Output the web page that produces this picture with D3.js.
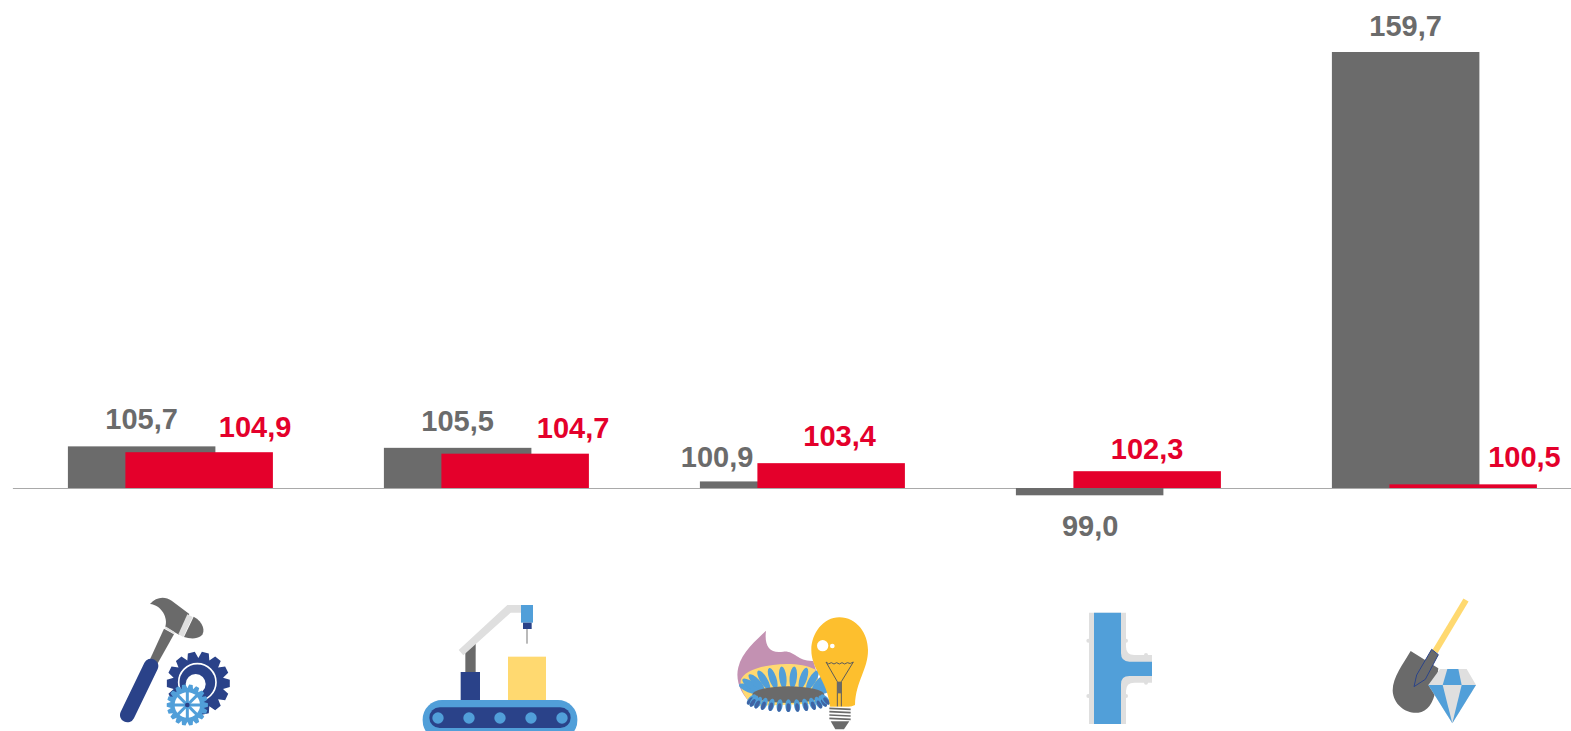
<!DOCTYPE html>
<html>
<head>
<meta charset="utf-8">
<script src="https://d3js.org/d3.v7.min.js"></script>
<style>
  body { margin: 0; background: #fff; overflow: hidden; }
  svg { display: block; }
  text { font-family: "Liberation Sans", Arial, sans-serif; font-weight: bold; font-size: 29px; }
</style>
</head>
<body>
<div id="chart"></div>
<script>

// values
const categories = ["a", "b", "c", "d", "e"];
const grayValues = [105.7, 105.5, 100.9, 99.0, 159.7];
const redValues = [104.9, 104.7, 103.4, 102.3, 100.5];

// label nudges, the labels do not sit straight above their bars
const grayLabelDx = [0, 0, -56.5, 0.5, 0];
const redLabelDx = [56, 58, 8.5, 0, 61.3];
const grayLabelGap = [17, 17, 14, 40.4, 16.3];
const redLabelGap = [15.5, 15.7, 17, 12, 17];

const width = 1571, height = 731;
const barW = 147.5, barOffset = 57.5;

const gray = "#6b6b6b", red = "#e4002b", blue = "#519fd9", navy = "#2a4389",
      yellow = "#ffd970", light = "#dfdfdf", amber = "#fdbf2d", mauve = "#c391b2";

const svg = d3.select("#chart").append("svg")
  .attr("width", width)
  .attr("height", height);

svg.append("defs").append("filter").attr("id", "soft")
  .append("feGaussianBlur").attr("stdDeviation", 1.4);

const x = d3.scaleBand().domain(categories).range([12.4, 1592.4]);
const y = d3.scaleLinear().domain([100, 159.7]).range([488, 52]);
const fmt = v => v.toFixed(1).replace(".", ",");

// axis, crossing at 100
svg.append("g")
  .attr("transform", `translate(0, ${y(100)})`)
  .call(d3.axisBottom(x).tickSize(0).tickFormat(""))
  .call(g => g.select(".domain").attr("stroke", "#a9a9a9").attr("stroke-width", 1.2));

function drawBars(values, color, off) {
  svg.append("g").selectAll("rect")
    .data(values)
    .join("rect")
      .attr("x", (d, i) => x(categories[i]) + x.bandwidth() / 2 + off - barW / 2)
      .attr("y", d => y(Math.max(d, 100)))
      .attr("width", barW)
      .attr("height", d => Math.abs(y(d) - y(100)))
      .attr("fill", color);
}
drawBars(grayValues, gray, -barOffset / 2);
drawBars(redValues, red, barOffset / 2);

function drawLabels(values, color, off, dx, gap) {
  svg.append("g").selectAll("text")
    .data(values)
    .join("text")
      .attr("text-anchor", "middle")
      .attr("fill", color)
      .attr("x", (d, i) => x(categories[i]) + x.bandwidth() / 2 + off + dx[i])
      .attr("y", (d, i) => d < 100 ? y(d) + gap[i] : y(d) - gap[i])
      .text(fmt);
}
drawLabels(grayValues, gray, -barOffset / 2, grayLabelDx, grayLabelGap);
drawLabels(redValues, red, barOffset / 2, redLabelDx, redLabelGap);

// icons, drawn in 3x coordinates of their own
const icon = (tx, ty) => svg.append("g").attr("transform", `translate(${tx}, ${ty}) scale(${1 / 3})`).attr("filter", "url(#soft)");
const path = (g, d, fill) => g.append("path").attr("d", d).attr("fill", fill);
const circle = (g, cx, cy, r, fill) => g.append("circle").attr("cx", cx).attr("cy", cy).attr("r", r).attr("fill", fill);
const rect = (g, rx, ry, w, h, fill, rad) => g.append("rect").attr("x", rx).attr("y", ry).attr("width", w).attr("height", h).attr("rx", rad || 0).attr("fill", fill);
const line = (g, x1, y1, x2, y2, color, w, cap) => g.append("line").attr("x1", x1).attr("y1", y1).attr("x2", x2).attr("y2", y2)
  .attr("stroke", color).attr("stroke-width", w).attr("stroke-linecap", cap || "butt");

function gearPath(cx, cy, rOut, rIn, teeth) {
  const pts = [];
  const step = Math.PI * 2 / teeth;
  for (let i = 0; i < teeth; i++) {
    const a = i * step;
    [[-0.5, rIn], [-0.25, rOut], [0.25, rOut], [0.5, rIn]].forEach(p => {
      pts.push([cx + p[1] * Math.cos(a + p[0] * step), cy + p[1] * Math.sin(a + p[0] * step)]);
    });
  }
  return "M" + pts.map(p => p.join(",")).join("L") + "Z";
}

// hammer and gears
const hammer = icon(100, 590);
path(hammer, "M150,42 C168,20 195,18 215,32 L268,72 L238,135 L196,110 C205,85 185,45 150,42 Z", gray);
path(hammer, "M262,73 L278,81 L250,141 L235,133 Z", light);
path(hammer, "M281,80 C310,95 318,125 303,138 C290,148 268,146 252,141 Z", gray);
path(hammer, "M192,116 L222,133 L172,222 L150,208 Z", gray);
line(hammer, 196, 112, 224, 130, light, 6);
line(hammer, 153, 228, 82, 375, navy, 44, "round");
path(hammer, gearPath(295, 280, 95, 76, 14), navy);
circle(hammer, 292, 277, 56, "none").attr("stroke", "#fff").attr("stroke-width", 5);
circle(hammer, 287, 282, 30, "#fff");
path(hammer, gearPath(262, 345, 62, 50, 18), blue);
circle(hammer, 262, 345, 38, "#fff");
d3.range(8).forEach(i => {
  const a = i * Math.PI / 4;
  line(hammer, 262, 345, 262 + 44 * Math.cos(a), 345 + 44 * Math.sin(a), blue, 9);
});
circle(hammer, 262, 345, 7, navy);

// conveyor with drill
const conveyor = icon(100, 590);
rect(conveyor, 1224, 200, 114, 132, yellow);
path(conveyor, "M1096,185 L1127,160 L1127,248 L1096,248 Z", gray);
rect(conveyor, 1082, 246, 58, 86, navy);
path(conveyor, "M1076,180 L1222,45 L1266,45 L1266,68 L1232,68 L1090,196 Z", light);
rect(conveyor, 1263, 45, 36, 53, blue);
rect(conveyor, 1269, 98, 26, 19, navy);
rect(conveyor, 1279, 117, 4, 44, "#999");
rect(conveyor, 968, 330, 464, 120, blue, 58);
rect(conveyor, 988, 352, 424, 62, navy, 31);
[1014, 1107, 1200, 1293, 1386].forEach(cx => circle(conveyor, cx, 384, 17, blue));

// gas flame and light bulb
const energy = icon(720, 590);
path(energy, "M138,122 C132,170 150,192 190,185 C225,182 232,215 280,213 L310,320 L100,345 C62,315 45,270 55,232 C65,185 110,150 138,122 Z", mauve);
path(energy, "M62,272 C70,225 225,205 285,238 L315,340 L105,348 C80,330 60,305 62,272 Z", yellow);
d3.range(12).forEach(i => {
  const a = Math.PI * (1.03 + i * 0.085);
  const cx = 205 + 118 * Math.cos(a), cy = 300 + 38 * Math.sin(a);
  energy.append("ellipse").attr("cx", cx).attr("cy", cy).attr("rx", 11).attr("ry", 33)
    .attr("fill", blue)
    .attr("transform", `rotate(${(a - Math.PI * 1.5) * 180 / Math.PI * 0.8}, ${cx}, ${cy})`);
});
energy.append("ellipse").attr("cx", 205).attr("cy", 314).attr("rx", 108).attr("ry", 25).attr("fill", gray);
d3.range(13).forEach(i => {
  const a = Math.PI * (0.95 - i * 0.075);
  const cx = 205 + 112 * Math.cos(a), cy = 325 + 22 * Math.sin(a);
  const g = energy.append("g").attr("transform", `rotate(${(a - Math.PI / 2) * 180 / Math.PI * 0.5}, ${cx}, ${cy})`);
  g.append("ellipse").attr("cx", cx).attr("cy", cy).attr("rx", 9).attr("ry", 19).attr("fill", blue);
  g.append("ellipse").attr("cx", cx).attr("cy", cy + 6).attr("rx", 6).attr("ry", 13).attr("fill", "#3f64a3");
});
path(energy, "M358,82 C410,82 444,130 444,180 C444,240 408,270 405,345 C385,356 345,356 330,350 C322,270 274,240 274,180 C274,130 310,82 358,82 Z", amber);
circle(energy, 308, 167, 17, "#fff");
circle(energy, 337, 168, 7, "#fff");
energy.append("path")
  .attr("d", "M318,216 Q326,226 334,218 Q342,226 350,218 Q358,226 366,218 Q374,226 382,218 Q390,224 400,216 L364,275 L364,350 M318,216 L352,275 L352,350")
  .attr("fill", "none").attr("stroke", "#5b5b5b").attr("stroke-width", 3);
rect(energy, 351, 275, 13, 35, gray);
rect(energy, 328, 350, 64, 44, "#fff");
[355, 365, 375, 385].forEach(ly => line(energy, 328, ly, 392, ly + 3, gray, 5));
path(energy, "M332,394 L388,394 L372,418 L346,418 Z", gray);

// pipe with a side branch
const pipe = icon(720, 590);
[[1105, 152], [1218, 152], [1105, 318], [1218, 318], [1278, 195], [1278, 278]].forEach(p => circle(pipe, p[0], p[1], 6, light));
path(pipe, "M1107,68 L1218,68 L1218,170 Q1218,195 1243,195 L1296,195 L1296,278 L1243,278 Q1218,278 1218,303 L1218,402 L1107,402 Z", light);
path(pipe, "M1122,68 L1203,68 L1203,190 Q1203,215 1228,215 L1296,215 L1296,258 L1228,258 Q1203,258 1203,283 L1203,402 L1122,402 Z", blue);

// shovel and diamond
const mining = icon(1370, 590);
line(mining, 288, 30, 195, 185, yellow, 18);
path(mining, "M122,183 C100,222 68,260 68,302 C70,345 110,372 145,368 C172,365 190,340 197,300 L205,235 Z", gray);
path(mining, "M185,178 L205,194 L166,268 L132,290 L140,255 Z", gray).attr("stroke", navy).attr("stroke-width", 3);
path(mining, "M210,237 L290,237 L318,285 L247,400 L175,285 Z", light);
path(mining, "M232,237 L265,237 L275,285 L218,285 Z", blue);
path(mining, "M175,285 L218,285 L247,400 Z", blue);
path(mining, "M275,285 L318,285 L247,400 Z", blue);

</script>
</body>
</html>
